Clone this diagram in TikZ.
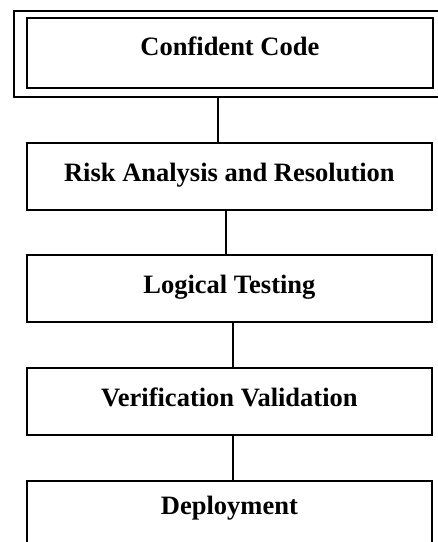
\documentclass[tikz,border=0pt]{standalone}
\usepackage{fontspec}
\setmainfont{Liberation Serif}

\begin{document}
\begin{tikzpicture}[x=1pt,y=-1pt,
        stage/.style={draw, line width=1.8pt, anchor=north west, inner sep=0pt,
            minimum width=405pt, minimum height=67pt, text height=17pt, text depth=7pt,
            font=\fontsize{26.5}{30}\selectfont\bfseries},
        link/.style={line width=1.5pt}]
    \clip (0,0) rectangle (438,542);
    % double frame round the first stage
    \node[draw, line width=1.8pt, anchor=north west, inner sep=0pt,
        minimum width=440pt, minimum height=86pt] (frame) at (13,10) {};
    \node[stage, minimum width=406pt, minimum height=70pt, text depth=11pt] (code) at (26,17) {Confident Code};
    \node[stage] (risk) at (26,142) {Risk Analysis and Resolution};
    \node[stage] (logic) at (26,254) {Logical Testing};
    \node[stage] (verif) at (26,367) {Verification Validation};
    \node[stage, text depth=17pt] (deploy) at (26,480) {Deployment};
    % connectors, slightly off centre as in the sketch
    \draw[link] ([xshift=-16pt]frame.south) -- ([xshift=-11.5pt]risk.north);
    \draw[link] ([xshift=-3.5pt]risk.south) -- ([xshift=-3.5pt]logic.north);
    \draw[link] ([xshift=3.5pt]logic.south) -- ([xshift=3.5pt]verif.north);
    \draw[link] ([xshift=3.5pt]verif.south) -- ([xshift=3.5pt]deploy.north);
\end{tikzpicture}
\end{document}
